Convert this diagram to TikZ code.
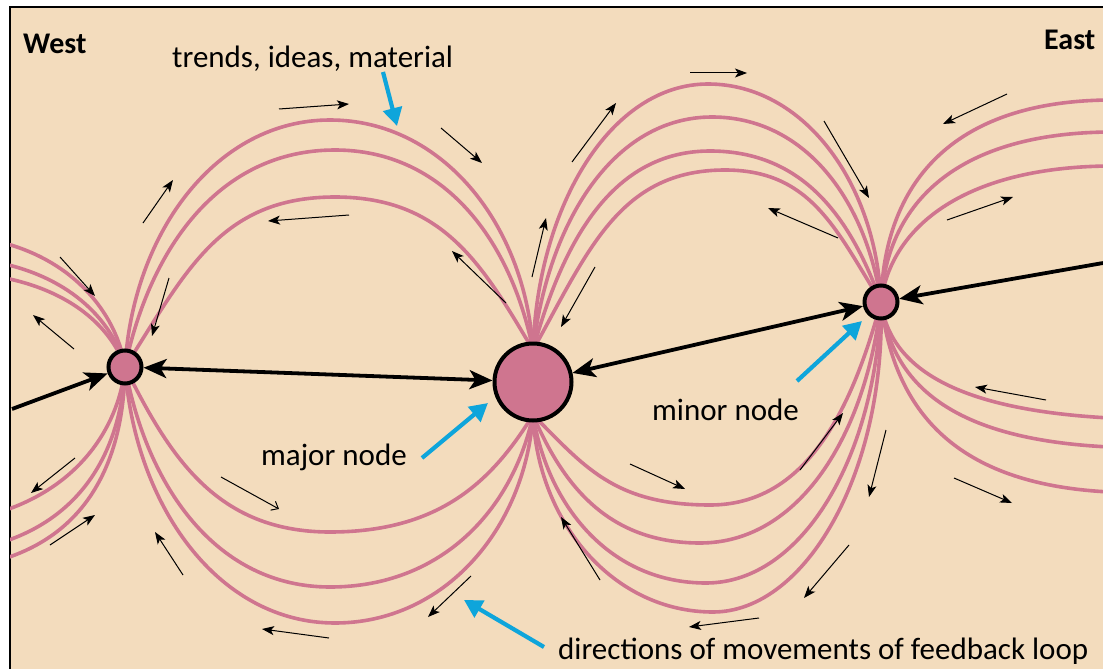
\documentclass[tikz,border=0pt]{standalone}
\usepackage{fontspec}
\setmainfont{Carlito}
\usetikzlibrary{arrows.meta}
\definecolor{bg}{HTML}{F3DCBD}
\definecolor{pk}{HTML}{CF758F}
\definecolor{bl}{HTML}{0EA5DB}
\newcommand\fieldlobe[8]{\draw[field] (#1,#2) .. controls ({#1+(#7)},{#2+0.55*(#4-#2)}) and ({#3-0.55*(#3-#1)},#4) .. (#3,#4) .. controls ({#3+0.55*(#5-#3)},#4) and ({#5-(#8)},{#6+0.55*(#4-#6)}) .. (#5,#6);}
\tikzset{
  field/.style={draw=pk, line width=3.6pt},
  nd/.style={circle, draw=black, fill=pk, line width=4pt, inner sep=0pt},
  big/.style={line width=3.8pt, -{Stealth[length=23pt,width=19pt,inset=6pt]}},
  bigboth/.style={line width=3.8pt, {Stealth[length=23pt,width=19pt,inset=6pt]}-{Stealth[length=23pt,width=19pt,inset=6pt]}},
  blarrow/.style={draw=bl, line width=4.2pt, -{Triangle[length=18pt,width=19pt]}},
  sm/.style={line width=1pt, -{Stealth[length=12pt,width=9pt,inset=3pt]}},
  smopen/.style={line width=1pt, -{Straight Barb[length=6pt,width=10pt]}},
  lbl/.style={inner sep=0pt, anchor=base west, font=\fontsize{31}{37}\selectfont},
  blbl/.style={inner sep=0pt, anchor=base west, font=\fontsize{30}{36}\selectfont\bfseries},
}
\begin{document}
\begin{tikzpicture}[x=1pt,y=-1pt]
\useasboundingbox (0,0) rectangle (1103,669);
\fill[white] (0,0) rectangle (1103,669);
\fill[bg] (10,7) rectangle (1103,669);
\draw[line width=1.5pt] (10,669) -- (10,7) -- (1103,7);

\begin{scope}
\clip (10,7) rectangle (1103,669);
% left side partial lobes
\draw[field] (125,367) .. controls (118,320) and (80,262) .. (0,242);
\draw[field] (125,367) .. controls (116,330) and (80,280) .. (0,263);
\draw[field] (125,367) .. controls (114,335) and (80,292) .. (0,277);
\draw[field] (125,367) .. controls (120,420) and (85,485) .. (0,512);
\draw[field] (125,367) .. controls (122,440) and (90,515) .. (0,543);
\draw[field] (125,367) .. controls (124,450) and (95,532) .. (0,560);
% left - major upper
\fieldlobe{125}{367}{330}{120}{533}{350}{8}{8}
\fieldlobe{125}{367}{335}{150}{533}{350}{25}{22}
\fieldlobe{125}{367}{335}{197}{533}{350}{60}{50}
% left - major lower
\fieldlobe{125}{367}{330}{532}{533}{415}{45}{40}
\fieldlobe{125}{367}{330}{587}{533}{415}{22}{20}
\fieldlobe{125}{367}{335}{623}{533}{415}{10}{8}
% major - right upper
\fieldlobe{533}{350}{708}{84}{881}{302}{5}{5}
\fieldlobe{533}{350}{712}{117}{881}{302}{15}{15}
\fieldlobe{533}{350}{710}{151}{881}{302}{30}{30}
\fieldlobe{533}{350}{725}{170}{881}{302}{55}{45}
% major - right lower
\fieldlobe{533}{415}{710}{505}{881}{302}{50}{30}
\fieldlobe{533}{415}{700}{543}{881}{302}{30}{15}
\fieldlobe{533}{415}{706}{583}{881}{302}{15}{5}
\fieldlobe{533}{415}{713}{612}{881}{302}{5}{-5}
% right side partial lobes
\draw[field] (881,302) .. controls (884,185) and (950,101) .. (1110,100);
\draw[field] (881,302) .. controls (887,200) and (960,133) .. (1110,132);
\draw[field] (881,302) .. controls (890,230) and (960,167) .. (1110,166);
\draw[field] (881,302) .. controls (890,370) and (960,410) .. (1110,418);
\draw[field] (881,302) .. controls (892,390) and (960,440) .. (1110,447);
\draw[field] (881,302) .. controls (895,420) and (965,485) .. (1110,492);
\end{scope}

% nodes
\node[nd, minimum size=33pt] (ln) at (125,367) {};
\node[nd, minimum size=77pt] (mj) at (533,382) {};
\node[nd, minimum size=33pt] (rn) at (881,302) {};

% big arrows
\coordinate (wL) at (12,409);
\coordinate (eR) at (1103,263);
\draw[big] (wL) -- (ln);
\draw[bigboth] (ln) -- (mj);
\draw[bigboth] (mj) -- (rn);
\draw[big] (eR) -- (rn);

% small arrows
\foreach \i/\a/\b/\c/\d in {
 1/60/257/95/296, 2/74/349/33/315, 3/75/458/31/493, 4/50/545/95/515,
 5/279/109/349/104, 6/441/128/482/163, 7/143/223/173/180, 8/349/215/268/221,
 9/506/303/452/251, 10/169/278/152/336, 11/532/277/546/218, 12/690/73/747/73,
 13/572/162/616/103, 14/824/121/869/198, 15/838/238/768/208, 16/595/267/561/327,
 17/1007/94/943/124, 18/947/220/1013/197, 20/183/575/155/532,
 21/471/576/428/617, 22/329/638/262/629, 23/630/464/685/489, 24/800/470/843/413,
 25/886/430/869/497, 26/600/580/561/517, 27/849/545/804/598, 28/759/618/689/627,
 29/1046/400/975/387, 30/954/478/1012/503}
{\coordinate (s\i) at (\a,\b); \coordinate (e\i) at (\c,\d); \draw[sm] (s\i) -- (e\i);}
\coordinate (s19) at (221,477); \coordinate (e19) at (279,509);
\draw[smopen] (s19) -- (e19);

% texts
\node[blbl] (west) at (23,54) {West};
\node[blbl] (east) at (1044,50) {East};
\node[lbl] (trends) at (172,67) {trends, ideas, material};
\node[lbl] (major) at (261,465) {major node};
\node[lbl] (minor) at (652,420) {minor node};
\node[lbl] (dirs) at (558,659) {directions of movements of feedback loop};

% blue arrows
\coordinate (b1s) at (383,72); \coordinate (b1e) at (397,126);
\coordinate (b2s) at (422,458); \coordinate (b2e) at (488,403);
\coordinate (b3s) at (797,381); \coordinate (b3e) at (862,321);
\coordinate (b4s) at (544,647); \coordinate (b4e) at (464,600);
\draw[blarrow] (b1s) -- (b1e);
\draw[blarrow] (b2s) -- (b2e);
\draw[blarrow] (b3s) -- (b3e);
\draw[blarrow] (b4s) -- (b4e);
\end{tikzpicture}
\end{document}
